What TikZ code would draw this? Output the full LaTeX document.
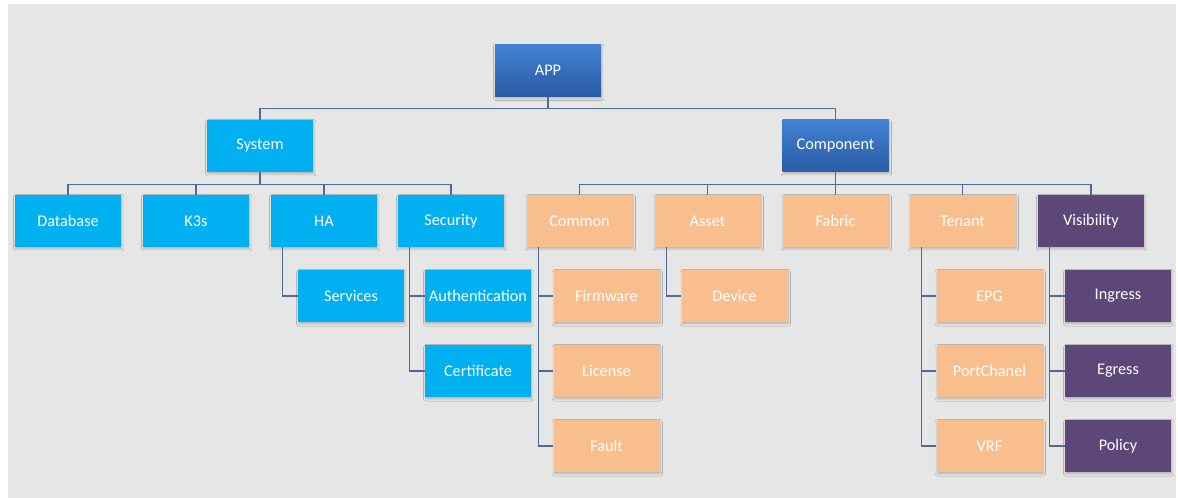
\documentclass[tikz,border=0pt]{standalone}
\usepackage{fontspec}
\setmainfont{Carlito}
\usepackage{xcolor}
\usetikzlibrary{calc,shadows.blur}

\definecolor{bgGray}{HTML}{E6E6E6}
\definecolor{linkBlue}{HTML}{4F6A97}
\definecolor{topTop}{HTML}{4282D2}
\definecolor{topBot}{HTML}{2A5BA5}
\definecolor{sysBlue}{HTML}{00B0F0}
\definecolor{compOrange}{HTML}{F9BE8D}
\definecolor{visPurple}{HTML}{5D4678}

\begin{document}
\begin{tikzpicture}[
          x=0.75pt, y=-0.75pt,
          box/.style={minimum width=79.5pt, minimum height=39pt, inner sep=0pt,
            text=white, font=\fontsize{12.2}{14}\selectfont,
            blur shadow={shadow xshift=0.6pt, shadow yshift=-1.4pt,
              shadow opacity=22, shadow blur steps=6, shadow blur radius=1.6pt}},
          topbox/.style={box, top color=topTop, bottom color=topBot},
          sysbox/.style={box, fill=sysBlue},
          compbox/.style={box, fill=compOrange},
          visbox/.style={box, fill=visPurple},
          link/.style={draw=linkBlue, line width=0.9pt}
      ]
        \useasboundingbox (0,0) rectangle (1178,498);
        \fill[white] (0,0) rectangle (1178,498);
        \fill[bgGray] (8,4) rectangle (1176,498);

        % top levels
        \node[topbox] (app) at (548,70.5) {APP};
        \node[sysbox] (sys) at (260,146) {System};
        \node[topbox] (comp) at (835.5,146) {Component};

        % second level
        \node[sysbox] (db) at (68,221) {Database};
        \node[sysbox] (k3s) at (196,221) {K3s};
        \node[sysbox] (ha) at (324,221) {HA};
        \node[sysbox] (sec) at (451,221) {Security};
        \node[compbox] (com) at (579.5,221) {Common};
        \node[compbox] (ast) at (707.5,221) {Asset};
        \node[compbox] (fab) at (835.5,221) {Fabric};
        \node[compbox] (ten) at (962.5,221) {Tenant};
        \node[visbox] (vis) at (1091,221) {Visibility};

        % leaves
        \node[sysbox] (srv) at (351,296) {Services};
        \node[sysbox] (auth) at (478,296) {Authentication};
        \node[sysbox] (cert) at (478,371) {Certificate};
        \node[compbox] (fw) at (606.5,296) {Firmware};
        \node[compbox] (lic) at (606.5,371) {License};
        \node[compbox] (flt) at (606.5,446) {Fault};
        \node[compbox] (dev) at (734.5,296) {Device};
        \node[compbox] (epg) at (989.5,296) {EPG};
        \node[compbox] (pc) at (989.5,371) {PortChanel};
        \node[compbox] (vrf) at (989.5,446) {VRF};
        \node[visbox] (ing) at (1118,296) {Ingress};
        \node[visbox] (egr) at (1118,371) {Egress};
        \node[visbox] (pol) at (1118,446) {Policy};

        % buses
        \foreach \c in {sys,comp}
          \draw[link] (app.south) -- ++(0,12) -| (\c.north);
        \foreach \c in {db,k3s,ha,sec}
          \draw[link] (sys.south) -- ++(0,12) -| (\c.north);
        \foreach \c in {com,ast,fab,ten,vis}
          \draw[link] (comp.south) -- ++(0,12) -| (\c.north);

        % side branches
        \foreach \p/\c in {ha/srv, sec/auth, sec/cert, com/fw, com/lic, com/flt,
                           ast/dev, ten/epg, ten/pc, ten/vrf, vis/ing, vis/egr, vis/pol}
          \draw[link] ($(\p.south west)+(12,0)$) |- (\c.west);
      \end{tikzpicture}
\end{document}
